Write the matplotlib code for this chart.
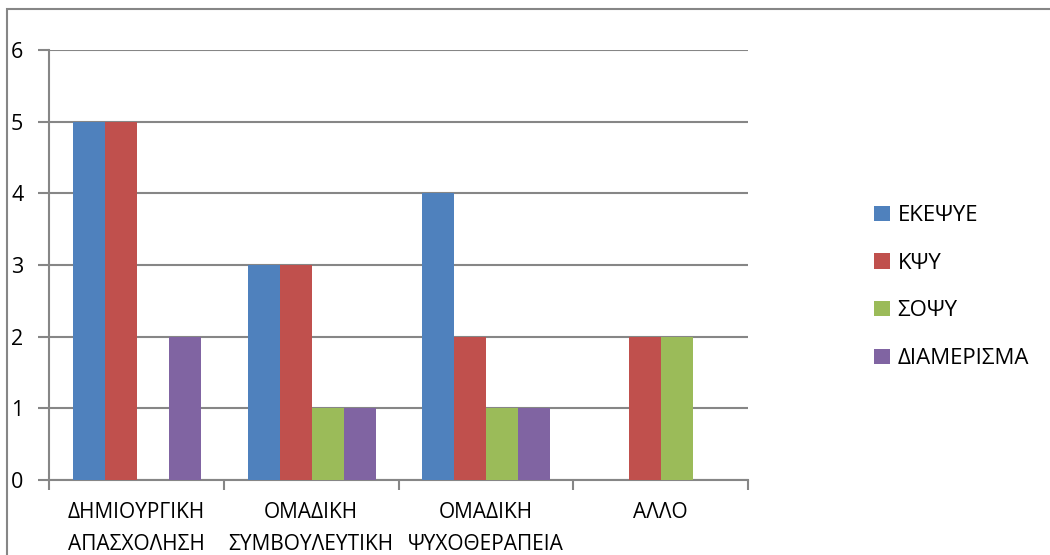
import matplotlib
matplotlib.use("Agg")
import matplotlib.pyplot as plt
import numpy as np
from matplotlib.patches import Rectangle, Patch

plt.rcParams['font.family'] = ['Open Sans', 'DejaVu Sans']

categories = ["ΔΗΜΙΟΥΡΓΙΚΗ\nΑΠΑΣΧΟΛΗΣΗ", "ΟΜΑΔΙΚΗ\nΣΥΜΒΟΥΛΕΥΤΙΚΗ",
              "ΟΜΑΔΙΚΗ\nΨΥΧΟΘΕΡΑΠΕΙΑ", "ΑΛΛΟ"]
series_names = ["ΕΚΕΨΥΕ", "ΚΨΥ", "ΣΟΨΥ", "ΔΙΑΜΕΡΙΣΜΑ"]
ekepsye = [5, 3, 4, 0]
kpsy = [5, 3, 2, 2]
sopsy = [0, 1, 1, 2]
diamerisma = [2, 1, 1, 0]
y_ticks = [0, 1, 2, 3, 4, 5, 6]

series = [ekepsye, kpsy, sopsy, diamerisma]
colors = ["#4F81BD", "#C0504D", "#9BBB59", "#8064A2"]
grid_c = "#868686"

W, H = 1050, 555
fig = plt.figure(figsize=(W / 100, H / 100), dpi=100)
ax = fig.add_axes([49 / W, 1 - 480 / H, (748 - 49) / W, (480 - 50) / H])

# outer chart border (top and left visible)
fig.patches.append(Rectangle((7 / W, -0.1), 1.2, (H - 9) / H + 0.1,
                             transform=fig.transFigure, fill=False,
                             edgecolor=grid_c, linewidth=1.5))

bw = 0.183
start = 0.137
x = np.arange(len(categories))
for i, (vals, c) in enumerate(zip(series, colors)):
    ax.bar(x + start + i * bw, vals, width=bw, align='edge', color=c,
           linewidth=0, zorder=3)

ax.set_xlim(0, 4)
ax.set_ylim(0, 6)
ax.set_yticks(y_ticks)
ax.set_yticklabels([str(v) for v in y_ticks], fontsize=15.5)
ax.yaxis.grid(True, color=grid_c, linewidth=1.5, zorder=0)
ax.tick_params(axis='y', length=8, width=1.5, color=grid_c, pad=10.5)

ax.set_xticks([0, 1, 2, 3, 4])
ax.set_xticklabels([])
ax.set_xticks(x + 0.5, minor=True)
ax.set_xticklabels(categories, minor=True, fontsize=15, linespacing=1.65)
ax.tick_params(axis='x', which='major', length=7, width=1.5, color=grid_c,
               direction='out')
ax.tick_params(axis='x', which='minor', length=0, pad=16)

for s in ['top', 'right']:
    ax.spines[s].set_visible(False)
for s in ['left', 'bottom']:
    ax.spines[s].set_color(grid_c)
    ax.spines[s].set_linewidth(1.5)

handles = [Patch(facecolor=c, edgecolor='none') for c in colors]
fig.legend(handles, series_names, loc='upper left',
           bbox_to_anchor=(863 / W, 1 - 194 / H), frameon=False,
           fontsize=16, handlelength=0.7, handleheight=0.7,
           handletextpad=0.35, labelspacing=1.2, borderpad=0)

fig.savefig("out.png", dpi=100, facecolor='white')
